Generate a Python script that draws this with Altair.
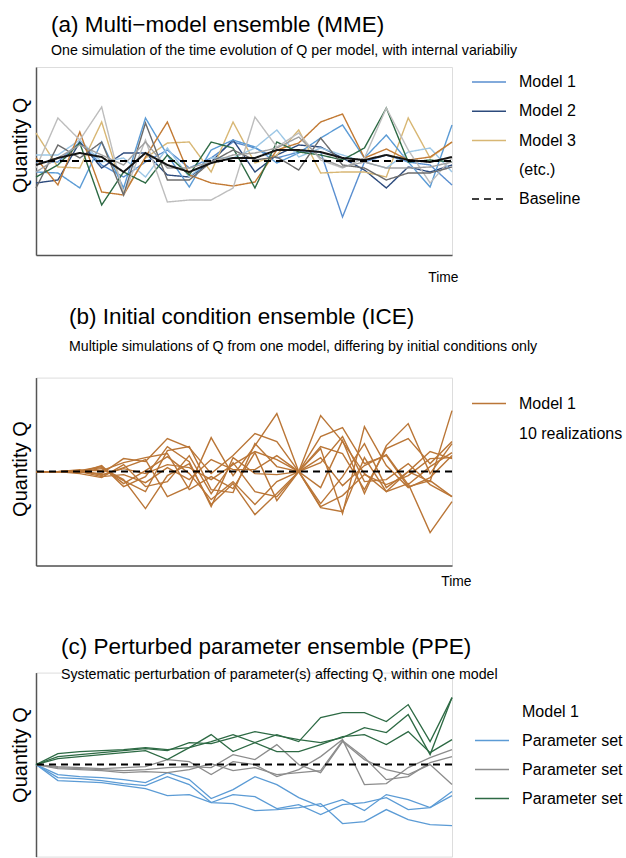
import altair as alt
import pandas as pd

REG = "Liberation Sans, Arial, sans-serif"
NAR = "Liberation Sans, Arial, sans-serif"

time_steps = list(range(1, 21))

# ---------------- (a) Multi-model ensemble ----------------
mme_model1 = [-1, -1, 19, -4, -16, -1, 11, -7, 3, 19, 13, 3, 9, 9, -56, -1, 6, -1, -4, -24]
mme_model2 = [-22, -19, 19, -7, 8, 8, -14, -16, -1, 21, -11, 6, 16, 14, 3, -9, -27, -6, -11, -4]
mme_model3 = [28, -6, -7, 39, -32, 3, 18, 19, -11, 39, -2, 6, 31, -12, -11, -11, -16, 43, 3, 19]
mme_model4 = [-11, -12, -27, 19, -27, 43, 6, -26, 11, 21, 14, -2, 8, 23, 36, 3, 26, -1, -26, 36]
mme_model5 = [6, 6, 21, -1, 3, -16, 13, -16, 3, 3, 13, 31, 4, 13, 6, -1, -7, 9, 13, -11]
mme_model6 = [3, -24, 29, -31, -34, 4, 39, -14, -22, -25, -21, 11, 18, 39, 47, 3, 12, 1, 4, 19]
mme_model7 = [-16, -4, 18, -44, -11, -22, 6, -14, 19, 13, -27, 19, 9, 6, 1, 13, 53, -1, 1, -1]
mme_model8 = [-7, 43, 21, 54, -34, 21, -41, -39, -39, -27, 44, 14, 28, 1, -7, 3, 53, 11, -22, 3]
mme_model9 = [-27, 16, 3, 19, -34, 38, -19, -19, -1, 11, 1, 4, -9, 23, -4, -7, -19, -12, -12, -6]
mme_model10 = [-11, 3, 16, 6, -4, 19, -7, -7, -1, 6, 8, 13, 24, 3, -6, -1, -7, -7, -6, -1]
mme_model11 = [-4, 3, 8, 4, -11, 8, -4, -11, -2, 3, 3, 11, 11, 9, 3, 1, 6, 1, -1, 4]
baseline = [0] * 20

mme_names = ["Model 1", "Model 2", "Model 3", "Model 4", "Model 5", "Model 6",
             "Model 7", "Model 8", "Model 9", "Model 10"]
mme_values = [mme_model1, mme_model2, mme_model3, mme_model4, mme_model5, mme_model6,
              mme_model7, mme_model8, mme_model9, mme_model10]
mme_domain = ["Model 1", "Model 2", "Model 3", "(etc.)", "Baseline", "Model 4", "Model 5",
              "Model 6", "Model 7", "Model 8", "Model 9", "Model 10", "Model 11"]
mme_colors = ["#5A8FD0", "#2C4A7C", "#D8B774", "transparent", "black", "#5B9BD5", "#9CC7E6",
              "#C27A34", "#2D6A44", "#BDBDBD", "#6B6B6B", "#A0A0A0", "#151515"]
mme_dashes = [[1, 0], [1, 0], [1, 0], [1, 0], [7, 5], [1, 0], [1, 0], [1, 0], [1, 0],
              [1, 0], [1, 0], [1, 0], [1, 0]]
mme_legend_values = ["Model 1", "Model 2", "Model 3", "(etc.)", "Baseline"]

# ---------------- (b) Initial condition ensemble ----------------
ice_r1 = [0, 0, 1, 4, -8, -37, -4, 8, -33, -12, -43, -22, 0, -36, -40, 14, -20, -12, -61, -30]
ice_r2 = [0, 0, 0, -2, 13, 10, 33, 24, -2, 16, 38, 30, 0, 56, 30, -2, -20, 0, -10, 61]
ice_r3 = [0, 0, -1, 6, -15, -5, 25, 10, -35, 14, -2, -3, 0, 23, -42, 45, 6, -16, -6, 16]
ice_r4 = [0, 0, 2, -4, 4, 12, -25, -15, 34, -4, 26, 58, 0, -16, 31, -22, 26, 48, -2, 28]
ice_r5 = [0, 0, 0, 3, -9, -20, 21, 25, -18, -21, 28, 5, 0, -32, -5, 28, -16, 0, 20, 13]
ice_r6 = [0, 0, -2, -6, 7, -15, -10, 16, -22, 9, -20, -25, 0, 35, 44, 8, 16, -15, -9, -25]
ice_r7 = [0, 0, 1, 1, 9, 14, 18, -18, -5, -17, 19, -29, 0, 25, 18, -18, 23, 33, 8, 30]
ice_r8 = [0, 0, 0, -5, -3, -11, 4, -8, 12, 2, 2, 16, 0, -35, -24, -3, -13, -4, 13, 14]
ice_r9 = [0, 0, 1, 5, -12, 1, 15, -2, -28, -10, -33, -10, 0, 9, 35, -10, -8, 8, -13, -25]
ice_r10 = [0, 0, 0, -3, 3, -2, 7, 4, -8, 7, 20, 12, 0, 14, -14, 6, 17, -13, 5, 19]
ice_values = [ice_r1, ice_r2, ice_r3, ice_r4, ice_r5, ice_r6, ice_r7, ice_r8, ice_r9, ice_r10]
ice_domain = ["Model 1", "10 realizations"]
ice_colors = ["#BA7637", "transparent"]

# ---------------- (c) Perturbed parameter ensemble ----------------
ppe_blue1 = [0, -10, -12, -13, -15, -18, -8, -15, -34, -25, -12, -20, -33, -42, -35, -46, -30, -35, -43, -27]
ppe_blue2 = [0, -13, -14, -16, -19, -21, -12, -20, -38, -30, -32, -44, -40, -50, -40, -38, -33, -45, -43, -31]
ppe_blue3 = [0, -16, -17, -18, -21, -24, -31, -30, -38, -39, -46, -45, -43, -39, -59, -57, -45, -55, -60, -61]
ppe_grey1 = [0, -2, -3, -4, -3, -2, 5, 3, -10, 3, 0, -12, -5, 8, 25, -20, -19, -3, 7, 15]
ppe_grey2 = [0, -3, -4, -5, -6, -5, -3, -2, -3, 10, 5, 20, 0, -8, 23, 5, -5, -10, 0, -20]
ppe_grey3 = [0, -4, -5, -6, -8, -7, -8, -5, 1, -6, -3, -10, -8, -6, 24, 7, -15, -12, 2, 8]
ppe_green1 = [0, 11, 13, 14, 15, 17, 15, 17, 23, 30, 22, 30, 23, 47, 52, 52, 43, 60, 23, 67]
ppe_green2 = [0, 8, 10, 12, 14, 16, 14, 22, 21, 27, 33, 29, 25, 22, 27, 37, 32, 50, 10, 67]
ppe_green3 = [0, 6, 8, 10, 12, 14, 5, 17, 30, 13, 22, 13, 13, 20, 28, 30, 20, 33, 12, 25]
ppe_sets = ["Parameter set 1"] * 3 + ["Parameter set 2"] * 3 + ["Parameter set 3"] * 3
ppe_values = [ppe_blue1, ppe_blue2, ppe_blue3, ppe_grey1, ppe_grey2, ppe_grey3,
              ppe_green1, ppe_green2, ppe_green3]
ppe_domain = ["Model 1", "Parameter set 1", "Parameter set 2", "Parameter set 3"]
ppe_colors = ["transparent", "#5B9BD5", "#8C8C8C", "#2D6A44"]


# ---------------- tables ----------------
def long_table(names, lists):
    rows = []
    for k, (name, vals) in enumerate(zip(names, lists)):
        for t, v in zip(time_steps, vals):
            rows.append({"t": t, "q": v, "series": name, "run": k})
    return pd.DataFrame(rows)


df_a = long_table(mme_names, mme_values)
df_a_black = long_table(["Model 11"], [mme_model11])
df_a_base = long_table(["Baseline"], [baseline])
df_b = long_table(["Model 1"] * 10, ice_values)
df_c = long_table(ppe_sets, ppe_values)

W = 416
X_SCALE = alt.Scale(domain=[1, 20], nice=False, zero=False)


def x_enc(show, tx=422, ty=22):
    if not show:
        return alt.X("t:Q", scale=X_SCALE, axis=None)
    return alt.X("t:Q", scale=X_SCALE, axis=alt.Axis(
        title="Time", domain=True, domainColor="#555", domainWidth=1.5, ticks=False,
        labels=False, grid=False, titleFont=NAR, titleFontSize=13.8, titleFontWeight="normal",
        titleColor="black", titleAlign="right", titleBaseline="middle", titleX=tx, titleY=ty))


def y_enc(title_y, lim=94):
    return alt.Y("q:Q", scale=alt.Scale(domain=[-lim, lim], nice=False, zero=False),
                 axis=alt.Axis(
        title="Quantity Q", domain=True, domainColor="#555", domainWidth=1.5, ticks=False,
        labels=False, grid=False, titleFont=REG, titleFontSize=20, titleFontWeight="normal",
        titleColor="black", titlePadding=6, titleY=title_y))


def legend(values, lx, ly, row_pad, expr=None):
    kw = dict(title=None, orient="none", legendX=lx, legendY=ly, values=values,
              symbolType="M-1.7,0H1.7", symbolSize=400, symbolStrokeWidth=1.5,
              labelFont=NAR, labelFontSize=16, labelFontWeight="normal", labelColor="black",
              labelOffset=19, rowPadding=row_pad, padding=0, labelLimit=300)
    if expr:
        kw["labelExpr"] = expr
    return alt.Legend(**kw)


def title(text, sub, dx, offset, sub_pad):
    return alt.TitleParams(text=text, subtitle=sub, anchor="start", frame="group", dx=dx,
                           font=REG, fontSize=22.5, fontWeight="normal", color="black",
                           subtitleFont=NAR, subtitleFontSize=14.2, subtitleColor="black",
                           subtitlePadding=sub_pad, offset=offset)


# ---------------- panel (a) ----------------
leg_a = legend(mme_legend_values, 442, 4, 10.25)
col_a = alt.Color("series:N", scale=alt.Scale(domain=mme_domain, range=mme_colors), legend=leg_a)
dash_a = alt.StrokeDash("series:N", scale=alt.Scale(domain=mme_domain, range=mme_dashes), legend=leg_a)

a_lines = alt.Chart(df_a).mark_line(strokeWidth=1.4).encode(
    x=x_enc(True, 422, 22), y=y_enc(78), color=col_a, strokeDash=dash_a, detail="run:N")
a_black = alt.Chart(df_a_black).mark_line(strokeWidth=2).encode(
    x="t:Q", y="q:Q", color=col_a, strokeDash=dash_a)
a_base = alt.Chart(df_a_base).mark_line(strokeWidth=2).encode(
    x="t:Q", y="q:Q", color=col_a, strokeDash=dash_a)
panel_a = alt.layer(a_lines, a_black, a_base).properties(
    width=W, height=188,
    title=title("(a) Multi\u2212model ensemble (MME)",
                "One simulation of the time evolution of Q per model, with internal variabiliy",
                15, 9.3, 7))

# ---------------- panel (b) ----------------
leg_b = legend(ice_domain, 442, 15, 11)
b_lines = alt.Chart(df_b).mark_line(strokeWidth=1.4).encode(
    x=x_enc(True, 435, 16), y=y_enc(91),
    color=alt.Color("series:N", scale=alt.Scale(domain=ice_domain, range=ice_colors), legend=leg_b),
    detail="run:N")
b_base = alt.Chart().mark_rule(color="black", strokeWidth=2, strokeDash=[7, 5]).encode(y=alt.datum(0))
panel_b = alt.layer(b_lines, b_base).properties(
    width=W, height=188,
    title=title("(b) Initial condition ensemble (ICE)",
                "Multiple simulations of Q from one model, differing by initial conditions only",
                33, 23.9, 11.4))

# ---------------- panel (c) ----------------
leg_c = legend(ppe_domain, 445, 28, 10, "substring(datum.label, 0, 13)")
c_lines = alt.Chart(df_c).mark_line(strokeWidth=1.3).encode(
    x=x_enc(False), y=y_enc(82, 92),
    color=alt.Color("series:N", scale=alt.Scale(domain=ppe_domain, range=ppe_colors), legend=leg_c),
    detail="run:N")
c_base = alt.Chart().mark_rule(color="black", strokeWidth=2, strokeDash=[7, 5]).encode(y=alt.datum(0))
panel_c = alt.layer(c_lines, c_base).properties(
    width=W, height=184,
    title=title("(c) Perturbed parameter ensemble (PPE)",
                "Systematic perturbation of parameter(s) affecting Q, within one model",
                25, -9.1, 9.4))

top = alt.vconcat(panel_a, panel_b, spacing=19.6).resolve_scale(
    color="independent", strokeDash="independent").resolve_legend(
    color="independent", strokeDash="independent")
chart = alt.vconcat(top, panel_c, spacing=45.6).resolve_scale(
    color="independent", strokeDash="independent").resolve_legend(
    color="independent", strokeDash="independent").properties(
    padding={"left": 9, "top": 13, "right": 0, "bottom": 0}
).configure_view(stroke=None).configure(background="white")

chart.save("out.html", embed_options={"renderer": "svg", "actions": False})
